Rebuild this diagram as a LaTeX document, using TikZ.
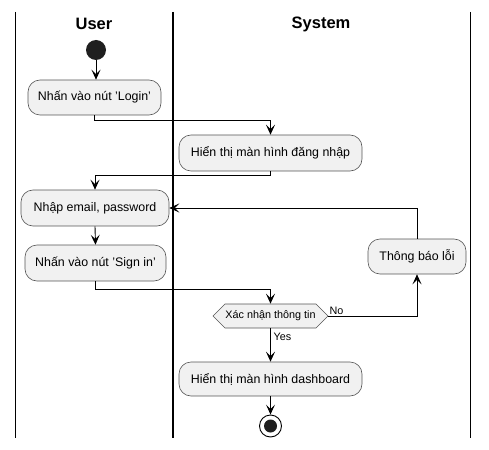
\documentclass[tikz,border=0pt]{standalone}
\usepackage{fontspec}
\setmainfont{Liberation Sans}
\usetikzlibrary{arrows.meta,shapes.symbols,calc}
\definecolor{actfill}{HTML}{F1F1F1}
\definecolor{actline}{HTML}{555555}
\begin{document}
\begin{tikzpicture}[x=1pt,y=-1pt,
  act/.style={draw=actline,line width=0.6pt,fill=actfill,rounded corners=12pt,
    font=\fontsize{12.4}{14}\selectfont,inner sep=0pt,minimum height=35pt},
  dec/.style={draw=actline,line width=0.6pt,fill=actfill,shape=signal,
    signal to=east and west,signal pointer angle=90,
    font=\fontsize{10.8}{12}\selectfont,inner sep=0pt,minimum height=24pt,minimum width=115pt},
  arr/.style={-{Stealth[length=10pt,width=9pt,inset=4.5pt]},line width=0.9pt},
  lane/.style={line width=1.3pt},
  head/.style={font=\bfseries\fontsize{16.5}{19}\selectfont},
  lbl/.style={font=\fontsize{10.8}{12}\selectfont,inner sep=1pt}]
\useasboundingbox (0,0) rectangle (489,449);
% swimlanes
\coordinate (l1t) at (15.5,12); \coordinate (l1b) at (15.5,438);
\coordinate (l2t) at (173,12);  \coordinate (l2b) at (173,438);
\coordinate (l3t) at (470.5,12); \coordinate (l3b) at (470.5,438);
\draw[lane] (l1t) -- (l1b);
\draw[lane] (l2t) -- (l2b);
\draw[lane] (l3t) -- (l3b);
\node[head] (hu) at (94,24) {User};
\node[head] (hs) at (321,24) {System};
% nodes
\node[circle,fill=black!88,minimum size=20pt,inner sep=0pt] (s) at (96,50) {};
\node[act,minimum width=133pt] (b1) at (94.5,97.5) {Nhấn vào nút 'Login'};
\node[act,minimum width=183pt,minimum height=36pt] (b2) at (270.5,153) {Hiển thị màn hình đăng nhập};
\node[act,minimum width=148pt,minimum height=36pt] (b3) at (95,208) {Nhập email, password};
\node[act,minimum width=141pt,minimum height=36pt] (b4) at (95.5,263) {Nhấn vào nút 'Sign in'};
\node[act,minimum width=98pt] (b5) at (417,256.5) {Thông báo lỗi};
\node[dec] (d) at (270.5,316) {Xác nhận thông tin};
\node[act,minimum width=183pt,minimum height=34pt] (b6) at (270.5,379) {Hiển thị màn hình dashboard};
\node[circle,draw=black,line width=0.9pt,fill=white,minimum size=22pt,inner sep=0pt] (e) at (270.5,426) {};
\node[circle,fill=black!88,minimum size=13pt,inner sep=0pt] (ei) at (e.center) {};
% connectors
\draw[arr] (s.south) -- (s.south |- b1.north);
\draw[arr] (b1.south) -- ++(0,5) -| (b2.north);
\draw[arr] (b2.south) -- ++(0,4) -| (b3.north);
\draw[arr] (b3.south) -- (b4.north);
\draw[arr] (b4.south) -- ++(0,8) -| (d.north);
\draw[arr] (d.east) -| (b5.south);
\draw[arr] (b5.north) |- (b3.east);
\draw[arr] (d.south) -- (b6.north);
\draw[arr] (b6.south) -- (e.north);
\node[lbl,anchor=south west] (no) at (d.east) {No};
\node[lbl,anchor=west] (yes) at ($(d.south)+(2,9)$) {Yes};
\end{tikzpicture}
\end{document}
